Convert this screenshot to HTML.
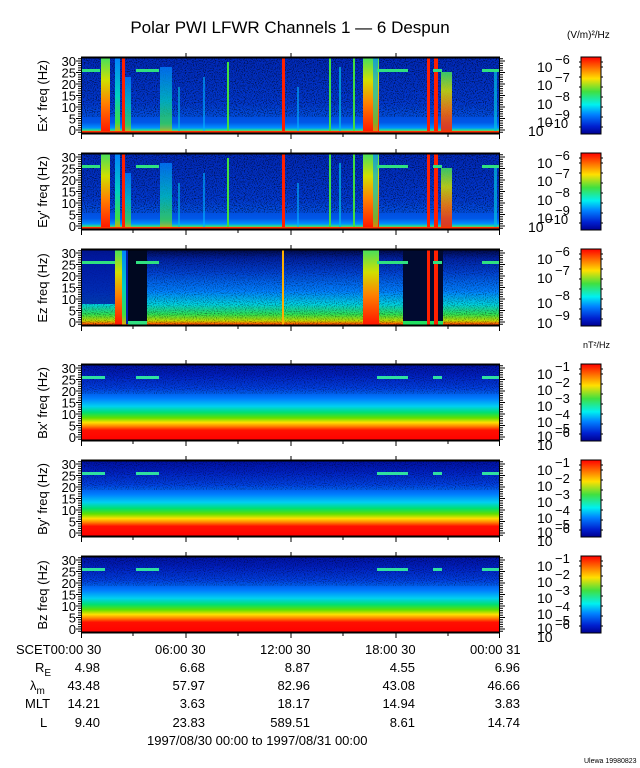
<!DOCTYPE html>
<html><head><meta charset="utf-8"><style>
html,body{margin:0;padding:0;background:#fff}
svg{display:block}
text{font-family:"Liberation Sans",sans-serif;fill:#000}
</style></head><body>
<svg width="640" height="768" viewBox="0 0 640 768" xmlns="http://www.w3.org/2000/svg">
<defs>
<linearGradient id="gE" x1="0" y1="0" x2="0" y2="1">
<stop offset="0" stop-color="#0028b8"/><stop offset="0.6" stop-color="#0038d0"/><stop offset="0.85" stop-color="#0058e8"/><stop offset="0.92" stop-color="#0090ff"/><stop offset="0.95" stop-color="#20e090"/><stop offset="0.97" stop-color="#ff9000"/><stop offset="1" stop-color="#ff1000"/></linearGradient>
<linearGradient id="gZ" x1="0" y1="0" x2="0" y2="1">
<stop offset="0" stop-color="#000840"/><stop offset="0.12" stop-color="#0020a0"/><stop offset="0.3" stop-color="#0040d0"/><stop offset="0.55" stop-color="#0080ff"/><stop offset="0.72" stop-color="#00d0e0"/><stop offset="0.85" stop-color="#30e050"/><stop offset="0.93" stop-color="#c0e000"/><stop offset="0.97" stop-color="#ff6000"/><stop offset="1" stop-color="#ff0000"/></linearGradient>
<linearGradient id="gB" x1="0" y1="0" x2="0" y2="1">
<stop offset="0" stop-color="#0010a0"/><stop offset="0.15" stop-color="#0020c0"/><stop offset="0.32" stop-color="#0040e0"/><stop offset="0.45" stop-color="#0080ff"/><stop offset="0.55" stop-color="#00d0f0"/><stop offset="0.63" stop-color="#00e070"/><stop offset="0.7" stop-color="#60e000"/><stop offset="0.76" stop-color="#ffe000"/><stop offset="0.81" stop-color="#ff8000"/><stop offset="0.86" stop-color="#ff1000"/><stop offset="1" stop-color="#ff0000"/></linearGradient>
<linearGradient id="gR" x1="0" y1="0" x2="0" y2="1">
<stop offset="0" stop-color="#40e060"/><stop offset="0.3" stop-color="#d0e000"/><stop offset="0.6" stop-color="#ff8000"/><stop offset="1" stop-color="#ff1000"/></linearGradient>
<linearGradient id="gG" x1="0" y1="0" x2="0" y2="1">
<stop offset="0" stop-color="#0080ff"/><stop offset="0.5" stop-color="#00d0c0"/><stop offset="0.85" stop-color="#40e040"/><stop offset="1" stop-color="#ffa000"/></linearGradient>
<linearGradient id="gC" x1="0" y1="0" x2="0" y2="1">
<stop offset="0" stop-color="#ff0000"/><stop offset="0.12" stop-color="#ff6000"/><stop offset="0.28" stop-color="#ffe000"/><stop offset="0.45" stop-color="#40e040"/><stop offset="0.62" stop-color="#00f0f0"/><stop offset="0.75" stop-color="#0080ff"/><stop offset="0.9" stop-color="#0020d0"/><stop offset="1" stop-color="#000090"/></linearGradient>
<filter id="nz" x="0" y="0" width="1" height="1"><feTurbulence type="fractalNoise" baseFrequency="0.9" numOctaves="1" seed="3"/><feColorMatrix values="0 0 0 0 0  0 0 0 0 0  0 0 0 0 0  0 0 0 -4 2.1"/><feComposite in2="SourceGraphic" operator="in"/></filter>
<g id="epanel">
<rect width="419" height="77" fill="url(#gE)"/>
<rect width="419" height="60" fill="#000" filter="url(#nz)" opacity="0.6"/>
<rect x="20" y="0" width="9" height="77" fill="url(#gR)"/>
<rect x="34" y="0" width="5" height="77" fill="url(#gG)"/>
<rect x="41" y="0" width="3" height="77" fill="#ff2000"/>
<rect x="44" y="20" width="6" height="57" fill="url(#gG)" opacity="0.8"/>
<rect x="79" y="10" width="12" height="67" fill="url(#gG)" opacity="0.75"/>
<rect x="97" y="30" width="2" height="47" fill="#00c0e0" opacity="0.6"/>
<rect x="122" y="20" width="2" height="57" fill="#00b0ff" opacity="0.6"/>
<rect x="146" y="5" width="2" height="72" fill="#40e040"/>
<rect x="201" y="0" width="3" height="77" fill="#ff2000"/>
<rect x="216" y="30" width="2" height="47" fill="#00b0ff" opacity="0.6"/>
<rect x="248" y="0" width="2" height="77" fill="#40e040"/>
<rect x="258" y="10" width="2" height="67" fill="#00c0e0" opacity="0.7"/>
<rect x="272" y="0" width="2" height="77" fill="#40e040"/>
<rect x="282" y="0" width="16" height="77" fill="url(#gR)"/>
<rect x="292" y="0" width="5" height="77" fill="url(#gG)" opacity="0.7"/>
<rect x="346" y="0" width="3" height="77" fill="#ff2000"/>
<rect x="353" y="0" width="4" height="77" fill="#ff2000"/>
<rect x="360" y="15" width="11" height="62" fill="url(#gR)" opacity="0.85"/>
<rect x="413" y="15" width="3" height="62" fill="#00c0e0" opacity="0.7"/>
<rect x="1" y="12" width="18" height="3" fill="#30e080"/>
<rect x="55" y="12" width="23" height="3" fill="#30e080"/>
<rect x="296" y="12" width="31" height="3" fill="#30e080"/>
<rect x="352" y="12" width="9" height="3" fill="#30e080"/>
<rect x="401" y="12" width="18" height="3" fill="#30e080"/>
<rect y="74" width="419" height="3" fill="#ff3000"/>
</g>
<g id="bpanel">
<rect width="419" height="77" fill="url(#gB)"/>
<rect width="419" height="30" fill="#000" filter="url(#nz)" opacity="0.4"/>
<rect x="1" y="12" width="23" height="3" fill="#30e0a0"/>
<rect x="55" y="12" width="23" height="3" fill="#30e0a0"/>
<rect x="296" y="12" width="31" height="3" fill="#30e0a0"/>
<rect x="352" y="12" width="9" height="3" fill="#30e0a0"/>
<rect x="401" y="12" width="18" height="3" fill="#30e0a0"/>
</g>
<g id="yt">
<path d="M-5,4h5M-5,15.5h5M-5,27h5M-5,38.5h5M-5,50h5M-5,61.5h5M-5,73h5M-3,1.7h3M-3,6.3h3M-3,8.6h3M-3,10.9h3M-3,13.2h3M-3,17.8h3M-3,20.1h3M-3,22.4h3M-3,24.7h3M-3,29.3h3M-3,31.6h3M-3,33.9h3M-3,36.2h3M-3,40.8h3M-3,43.1h3M-3,45.4h3M-3,47.7h3M-3,52.3h3M-3,54.6h3M-3,56.9h3M-3,59.2h3M-3,63.8h3M-3,66.1h3M-3,68.4h3M-3,70.7h3M-3,75.3h3" stroke="#000"/>
<path d="M424,4h-5M424,15.5h-5M424,27h-5M424,38.5h-5M424,50h-5M424,61.5h-5M424,73h-5M422,1.7h-3M422,6.3h-3M422,8.6h-3M422,10.9h-3M422,13.2h-3M422,17.8h-3M422,20.1h-3M422,22.4h-3M422,24.7h-3M422,29.3h-3M422,31.6h-3M422,33.9h-3M422,36.2h-3M422,40.8h-3M422,43.1h-3M422,45.4h-3M422,47.7h-3M422,52.3h-3M422,54.6h-3M422,56.9h-3M422,59.2h-3M422,63.8h-3M422,66.1h-3M422,68.4h-3M422,70.7h-3M422,75.3h-3" stroke="#000"/>
<path d="M0.5,0v77M105,0v-4M210,0v-4M315,0v-4M418.5,0v77M105,77v5M210,77v5M315,77v5M0.5,77v5M418.5,77v5M52,77v3M157,77v3M262,77v3M367,77v3" stroke="#000"/>
<path d="M0,0.5h419M0,76.5h419" stroke="#000" stroke-width="2"/>
</g>
<g id="ylab" font-size="13" text-anchor="end">
<text x="-5" y="9">30</text><text x="-5" y="20.5">25</text><text x="-5" y="32">20</text><text x="-5" y="43.5">15</text><text x="-5" y="55">10</text><text x="-5" y="66.5">5</text><text x="-5" y="78">0</text>
</g>
<g id="cbar">
<rect width="20" height="77" fill="url(#gC)" stroke="#000"/>
<path d="M-2,5h2M-2,10h2M-2,20h2M-2,30h2M-2,40h2M-2,50h2M-2,60h2M-2,70h2M20,5h2M20,10h2M20,20h2M20,30h2M20,40h2M20,50h2M20,60h2M20,70h2" stroke="#000"/>
</g>
</defs>

<text x="290" y="33" font-size="17" text-anchor="middle">Polar PWI LFWR Channels 1 — 6 Despun</text>
<text x="567" y="38" font-size="10">(V/m)²/Hz</text>
<text x="583" y="348" font-size="9">nT²/Hz</text>

<g transform="translate(81,57)"><use href="#epanel"/><use href="#yt"/><use href="#ylab"/></g>
<g transform="translate(81,153)"><use href="#epanel"/><use href="#yt"/><use href="#ylab"/></g>
<g transform="translate(81,249)">
<rect width="419" height="77" fill="url(#gZ)"/>
<rect width="419" height="77" fill="#000" filter="url(#nz)" opacity="0.4"/>
<rect x="1" y="0" width="34" height="55" fill="#0018a0" opacity="0.8"/>
<rect x="36" y="0" width="12" height="75" fill="#0020b0"/>
<rect x="47" y="55" width="18" height="20" fill="#0020b0"/>
<rect x="34" y="0" width="8" height="77" fill="url(#gR)"/>
<rect x="41" y="0" width="4" height="77" fill="url(#gG)"/>
<rect x="47" y="0" width="19" height="77" fill="#000820"/>
<rect x="47" y="72" width="19" height="5" fill="#30e080"/>
<rect x="201" y="0" width="2" height="77" fill="#ffb000"/>
<rect x="282" y="0" width="16" height="77" fill="url(#gR)"/>
<rect x="322" y="0" width="40" height="72" fill="#000a30"/>
<rect x="322" y="72" width="40" height="5" fill="#20e060"/>
<rect x="346" y="0" width="3" height="77" fill="#ff2000"/>
<rect x="353" y="0" width="4" height="77" fill="#ff2000"/>
<rect x="1" y="12" width="33" height="3" fill="#30e080"/>
<rect x="55" y="12" width="23" height="3" fill="#30e080"/>
<rect x="296" y="12" width="31" height="3" fill="#30e080"/>
<rect x="352" y="12" width="9" height="3" fill="#30e080"/>
<rect x="401" y="12" width="18" height="3" fill="#30e080"/>
<use href="#yt"/><use href="#ylab"/></g>
<g transform="translate(81,364)"><use href="#bpanel"/><use href="#yt"/><use href="#ylab"/></g>
<g transform="translate(81,460)"><use href="#bpanel"/><use href="#yt"/><use href="#ylab"/></g>
<g transform="translate(81,556)"><use href="#bpanel"/><use href="#yt"/><use href="#ylab"/></g>

<g font-size="13" text-anchor="middle">
<text transform="translate(47,96) rotate(-90)">Ex' freq (Hz)</text>
<text transform="translate(47,192) rotate(-90)">Ey' freq (Hz)</text>
<text transform="translate(47,288) rotate(-90)">Ez freq (Hz)</text>
<text transform="translate(47,403) rotate(-90)">Bx' freq (Hz)</text>
<text transform="translate(47,499) rotate(-90)">By' freq (Hz)</text>
<text transform="translate(47,595) rotate(-90)">Bz freq (Hz)</text>
</g>

<g transform="translate(581,57)"><use href="#cbar"/></g>
<g transform="translate(581,153)"><use href="#cbar"/></g>
<g transform="translate(581,249)"><use href="#cbar"/></g>
<g transform="translate(581,364)"><use href="#cbar"/></g>
<g transform="translate(581,460)"><use href="#cbar"/></g>
<g transform="translate(581,556)"><use href="#cbar"/></g>

<g font-size="14" id="eleg">
<text x="537" y="72">10</text><text x="555" y="64" font-size="13">−6</text>
<text x="537" y="90">10</text><text x="555" y="82" font-size="13">−7</text>
<text x="537" y="109">10</text><text x="555" y="101" font-size="13">−8</text>
<text x="537" y="127">10</text><text x="555" y="119" font-size="13">−9</text>
<text x="528" y="136">10</text><text x="546" y="128" font-size="13">−10</text>
</g>
<g transform="translate(0,96)"><use href="#eleg"/></g>
<g font-size="14">
<text x="537" y="264">10</text><text x="555" y="256" font-size="13">−6</text>
<text x="537" y="283">10</text><text x="555" y="275" font-size="13">−7</text>
<text x="537" y="308">10</text><text x="555" y="300" font-size="13">−8</text>
<text x="537" y="328">10</text><text x="555" y="320" font-size="13">−9</text>
</g>
<g font-size="14" id="bleg">
<text x="537" y="379">10</text><text x="555" y="371" font-size="13">−1</text>
<text x="537" y="395">10</text><text x="555" y="387" font-size="13">−2</text>
<text x="537" y="411">10</text><text x="555" y="403" font-size="13">−3</text>
<text x="537" y="427">10</text><text x="555" y="419" font-size="13">−4</text>
<text x="537" y="441">10</text><text x="555" y="433" font-size="13">−5</text>
<text x="537" y="450">10</text><text x="555" y="437" font-size="13">−6</text>
</g>
<g transform="translate(0,96)"><use href="#bleg"/></g>
<g transform="translate(0,192)"><use href="#bleg"/></g>

<g font-size="13">
<text x="16" y="654">SCET00:00 30</text>
<text x="155" y="654">06:00 30</text>
<text x="260" y="654">12:00 30</text>
<text x="365" y="654">18:00 30</text>
<text x="470" y="654">00:00 31</text>
<text x="35" y="672">R<tspan font-size="10" dy="4">E</tspan></text>
<text x="30" y="690">λ<tspan font-size="10" dy="4">m</tspan></text>
<text x="25" y="708">MLT</text>
<text x="40" y="727">L</text>
<g text-anchor="end">
<text x="100" y="672">4.98</text><text x="205" y="672">6.68</text><text x="310" y="672">8.87</text><text x="415" y="672">4.55</text><text x="520" y="672">6.96</text>
<text x="100" y="690">43.48</text><text x="205" y="690">57.97</text><text x="310" y="690">82.96</text><text x="415" y="690">43.08</text><text x="520" y="690">46.66</text>
<text x="100" y="708">14.21</text><text x="205" y="708">3.63</text><text x="310" y="708">18.17</text><text x="415" y="708">14.94</text><text x="520" y="708">3.83</text>
<text x="100" y="727">9.40</text><text x="205" y="727">23.83</text><text x="310" y="727">589.51</text><text x="415" y="727">8.61</text><text x="520" y="727">14.74</text>
</g>
<text x="147" y="745">1997/08/30 00:00 to 1997/08/31 00:00</text>
</g>
<text x="584" y="763" font-size="7">Ulewa 19980823</text>
</svg>
</body></html>
